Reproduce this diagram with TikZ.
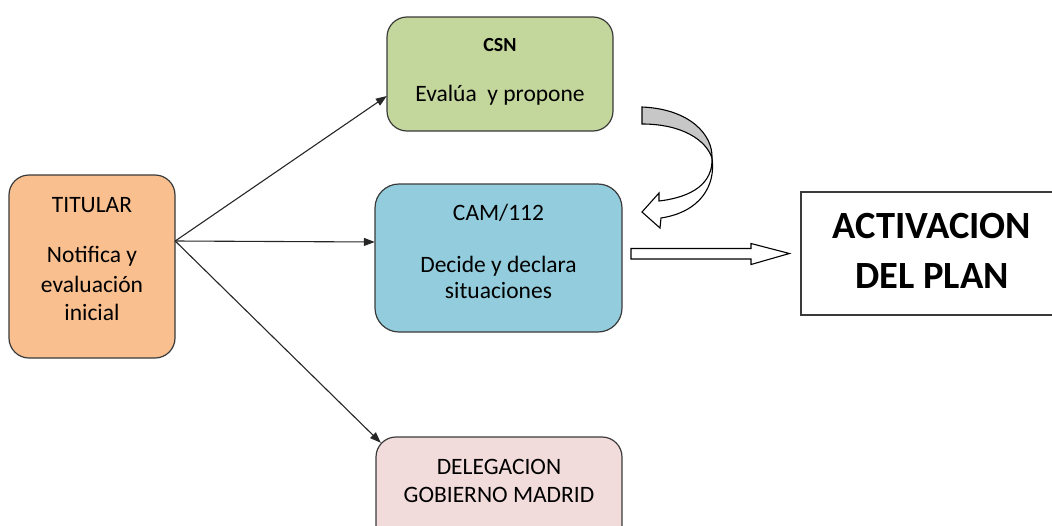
\documentclass[tikz,border=0pt]{standalone}
\usepackage{fontspec}
\setmainfont{Carlito}
\usetikzlibrary{arrows.meta}
\definecolor{orangefill}{HTML}{F9BF8F}
\definecolor{greenfill}{HTML}{C3D69B}
\definecolor{bluefill}{HTML}{93CDDD}
\definecolor{pinkfill}{HTML}{F2DCDB}
\definecolor{edge}{HTML}{3A3A3A}
\begin{document}
\begin{tikzpicture}[x=1pt,y=-1pt,
  box/.style={draw=edge,line width=1.2pt,rounded corners=20pt,inner sep=0pt},
  txt/.style={anchor=base,inner sep=0pt,font=\fontsize{23.5}{26}\selectfont},
  bold/.style={anchor=base,inner sep=0pt,font=\fontsize{20}{22}\selectfont\bfseries},
  big/.style={anchor=base,inner sep=0pt,font=\fontsize{38.5}{42}\selectfont\bfseries},
  conn/.style={draw=black!85,line width=1.1pt,-{Triangle[length=11pt,width=8pt]}},
  blk/.style={draw=black,line width=1.1pt,line join=miter}]
\useasboundingbox (0,0) rectangle (1052,525);
\clip (0,0) rectangle (1052,525);
% boxes
\path[box,fill=orangefill] (9,175) rectangle (175,358);
\node[inner sep=0pt,minimum width=166pt,minimum height=183pt] (tit) at (92,266.5) {};
\path[box,fill=greenfill] (387,17) rectangle (613,131);
\node[inner sep=0pt,minimum width=226pt,minimum height=114pt] (csn) at (500,74) {};
\path[box,fill=bluefill,rounded corners=24pt] (375,184) rectangle (622,332);
\node[inner sep=0pt,minimum width=247pt,minimum height=148pt] (cam) at (498.5,258) {};
\path[box,fill=pinkfill] (376,437) rectangle (622,545);
\node[inner sep=0pt,minimum width=246pt,minimum height=108pt] (del) at (499,491) {};
\node[draw=edge,line width=1.2pt,inner sep=0pt,minimum width=260pt,minimum height=123pt] (act) at (931,253.5) {};
% texts
\node[txt] (t1) at (92,212) {TITULAR};
\node[txt] (t2) at (92,262) {Notifica y};
\node[txt] (t3) at (92,292) {evaluación};
\node[txt] (t4) at (92,320) {inicial};
\node[bold] (c1) at (500,51) {CSN};
\node[txt] (c2) at (500,101) {Evalúa\ \ y propone};
\node[txt] (m1) at (498.5,220) {CAM/112};
\node[txt] (m2) at (498.5,272) {Decide y declara};
\node[txt] (m3) at (498.5,298) {situaciones};
\node[txt] (d1) at (499,474) {DELEGACION};
\node[txt] (d2) at (499,502) {GOBIERNO MADRID};
\node[big] (a1) at (932,238) {ACTIVACION};
\node[big] (a2) at (932,288) {DEL PLAN};
% connectors
\coordinate (ts) at ([yshift=25.5pt]tit.east);
\draw[conn] (ts) -- ([yshift=-22pt]csn.west);
\draw[conn] (ts) -- ([yshift=16pt]cam.west);
\draw[conn] (ts) -- ([shift={(5pt,-6pt)}]del.north west);
% curved arrow (gray back part)
\filldraw[blk,fill=black!22] (642,107) .. controls (690,109) and (713,135) .. (712,158)
  .. controls (706,140) and (682,124) .. (642,124) -- cycle;
% curved arrow (white front part with head)
\filldraw[blk,fill=white] (712,158) .. controls (713,183) and (693,197) .. (659,201)
  -- (659,193) -- (642,212) -- (660,228) -- (661,218)
  .. controls (700,212) and (716,186) .. (712,158) -- cycle;
% block arrow to activation
\coordinate (bs) at (631,253.5);
\filldraw[blk,fill=white] ([yshift=5pt]bs) -- (751,248.5) -- (751,243.5) -- ([xshift=-11pt]act.west)
  -- (751,264.5) -- (751,259) -- ([yshift=-5.5pt]bs) -- cycle;
\end{tikzpicture}
\end{document}
